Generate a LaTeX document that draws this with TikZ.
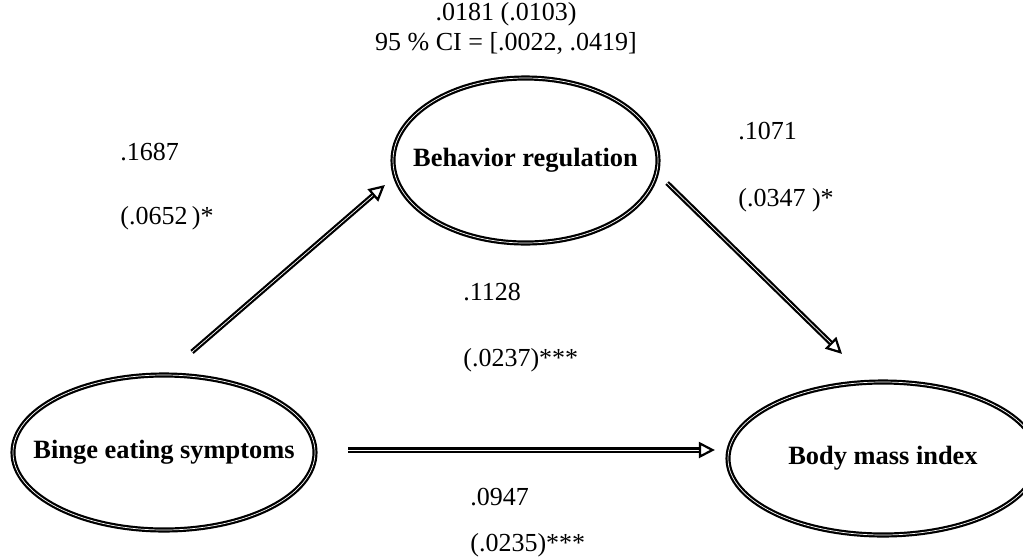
\documentclass[tikz,border=0pt]{standalone}
\usepackage{fontspec}
\setmainfont{Liberation Serif}
\usepackage{tikz}
\usetikzlibrary{positioning,calc,shapes.geometric,arrows.meta}

\begin{document}
\begin{tikzpicture}[x=0.5pt, y=-0.5pt, >={Triangle[open, length=8pt, width=8pt, line width=1.1pt]},
    latent/.style={draw, ellipse, double, double distance=0.35pt, line width=1.1pt, inner xsep=-12pt, inner ysep=0pt, font=\fontsize{13.2}{15}\selectfont\bfseries},
    link/.style={->, double, double distance=0.35pt, line width=1.1pt},
    coef/.style={anchor=west, inner sep=0pt, font=\fontsize{13}{15}\selectfont}]
    \useasboundingbox (0,0) rectangle (1023,558);
    % Nodes
    \node [latent, minimum width=151pt, minimum height=77.5pt] (bes) at (164,452.5) {Binge eating symptoms};
    \node [latent, minimum width=132.5pt, minimum height=82.5pt] (breg) at (525.5,160.5) {Behavior regulation};
    \node [latent, minimum width=155pt, minimum height=76.5pt] (bmi) at (883,458.5) {Body mass index};

    % Paths
    \draw[link] ($(bes.north)+(28,-22)$) -- ($(breg.west)+(-7,24.5)$);
    \draw[link] ($(breg.east)+(8,22.5)$) -- ($(bmi.north)+(-41,-27)$);
    \draw[link] ($(bes.east)+(32,-2.5)$) -- ($(bmi.west)+(-12,-8.5)$);

    % Labels
    \node [coef, anchor=center] (ind) at (506,14) {.0181 (.0103)};
    \node [coef, anchor=center, below=3pt of ind] (ci) {95 \% CI = [.0022, .0419]};
    \node [coef] (coefa) at (120,152) {.1687};
    \node [coef] (sea) at (120,218) {(.0652\,)*};
    \node [coef] (coefb) at (738,131) {.1071};
    \node [coef] (seb) at (738,200) {(.0347 )*};
    \node [coef] (coefc) at (463,292) {.1128};
    \node [coef] (sec) at (463,360) {(.0237)***};
    \node [coef] (coefd) at (470,497) {.0947};
    \node [coef] (sed) at (470,545) {(.0235)***};
  \end{tikzpicture}
\end{document}
